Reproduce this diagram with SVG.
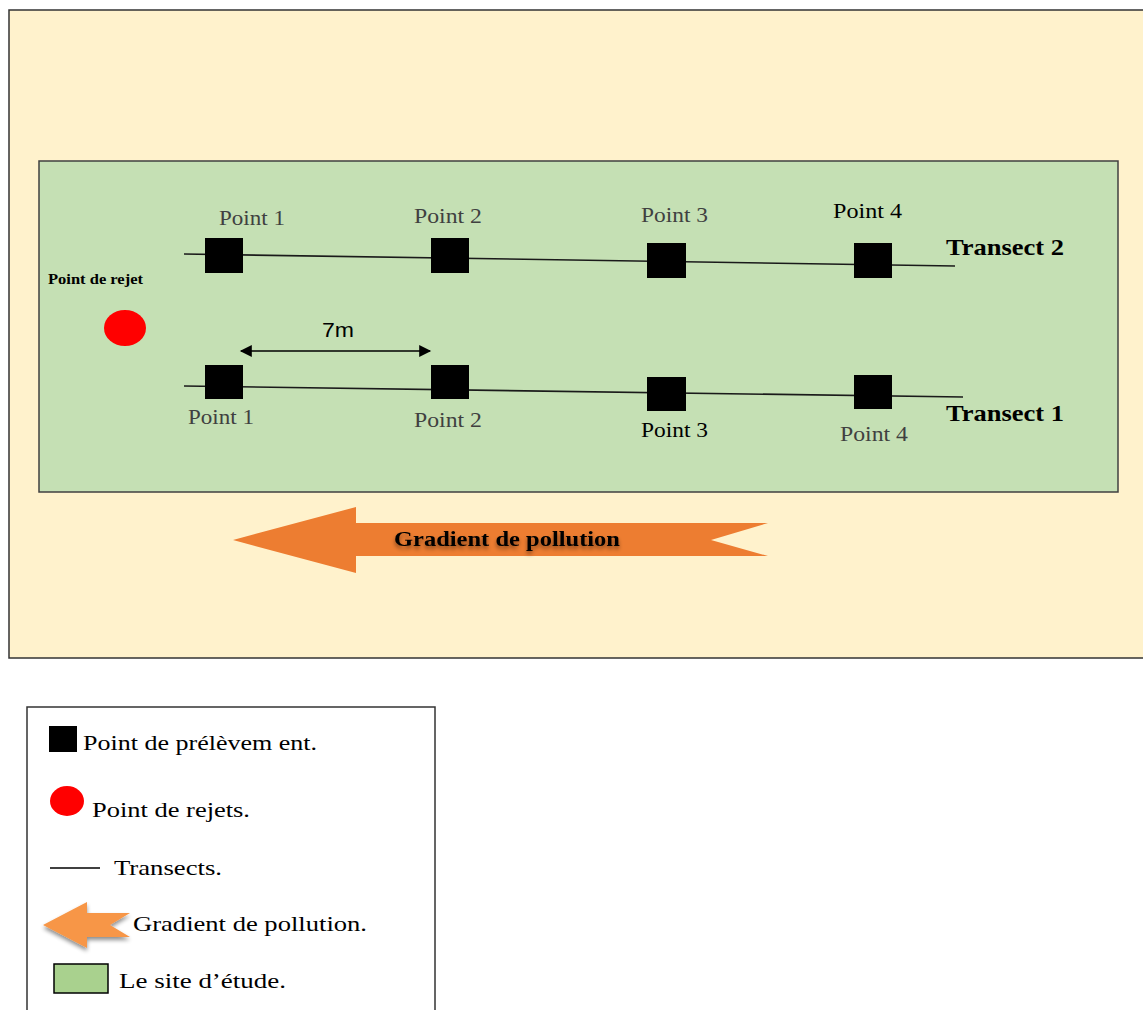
<svg xmlns="http://www.w3.org/2000/svg" width="1143" height="1010" viewBox="0 0 1143 1010">
<style>
.lbl{font-family:"Liberation Serif",serif;font-size:21px;fill:#404040}
.lblk{font-family:"Liberation Serif",serif;font-size:21px;fill:#000}
.tr{font-family:"Liberation Serif",serif;font-size:23px;font-weight:bold;fill:#000}
.leg{font-family:"Liberation Serif",serif;font-size:22px;fill:#000}
.sq{fill:#000}
.tl{stroke:#1a1a1a;stroke-width:1.6;fill:none}
</style>
<defs>
<marker id="ah" viewBox="0 0 10 10" refX="9" refY="5" markerWidth="14" markerHeight="12" markerUnits="userSpaceOnUse" orient="auto-start-reverse">
<path d="M0,0 L10,5 L0,10 z" fill="#000"/>
</marker>
<filter id="sh" x="-20%" y="-50%" width="140%" height="200%">
<feGaussianBlur in="SourceAlpha" stdDeviation="2"/>
<feOffset dx="0" dy="3" result="b"/>
<feComponentTransfer><feFuncA type="linear" slope="0.45"/></feComponentTransfer>
<feMerge><feMergeNode/><feMergeNode in="SourceGraphic"/></feMerge>
</filter>
</defs>
<rect id="background" x="0" y="0" width="1143" height="1010" fill="#fff"/>
<g id="outer-area"><rect x="9" y="10" width="1142" height="648" fill="#fff2cc" stroke="#333" stroke-width="1.5"/></g>
<g id="study-site"><rect x="39" y="161" width="1079" height="331" fill="#c5e0b4" stroke="#404040" stroke-width="1.5"/></g>
<g id="connectors">
<path class="tl" d="M184,254 L955,266"/>
<path class="tl" d="M184,386 L963,397"/>
<line x1="241" y1="351" x2="430" y2="351" stroke="#000" stroke-width="1.5" marker-start="url(#ah)" marker-end="url(#ah)"/>
</g>
<g id="rejet">
<ellipse cx="125" cy="328" rx="21" ry="18" fill="#ff0000"/>
<text x="48" y="284" font-family="Liberation Serif,serif" font-size="14" font-weight="bold" textLength="95" lengthAdjust="spacingAndGlyphs">Point de rejet</text>
</g>
<g id="t2-p1"><rect class="sq" x="205" y="238" width="38" height="35"/><text class="lbl" x="219" y="225" textLength="66" lengthAdjust="spacingAndGlyphs">Point 1</text></g>
<g id="t2-p2"><rect class="sq" x="431" y="238" width="38" height="35"/><text class="lbl" x="414" y="223" textLength="68" lengthAdjust="spacingAndGlyphs">Point 2</text></g>
<g id="t2-p3"><rect class="sq" x="647" y="243" width="39" height="35"/><text class="lbl" x="641" y="222" textLength="67" lengthAdjust="spacingAndGlyphs">Point 3</text></g>
<g id="t2-p4"><rect class="sq" x="854" y="243" width="38" height="35"/><text class="lblk" x="833" y="218" textLength="69" lengthAdjust="spacingAndGlyphs">Point 4</text></g>
<g id="t1-p1"><rect class="sq" x="205" y="365" width="38" height="34"/><text class="lbl" x="188" y="424" textLength="66" lengthAdjust="spacingAndGlyphs">Point 1</text></g>
<g id="t1-p2"><rect class="sq" x="431" y="365" width="38" height="34"/><text class="lbl" x="414" y="427" textLength="68" lengthAdjust="spacingAndGlyphs">Point 2</text></g>
<g id="t1-p3"><rect class="sq" x="647" y="377" width="39" height="34"/><text class="lblk" x="641" y="437" textLength="67" lengthAdjust="spacingAndGlyphs">Point 3</text></g>
<g id="t1-p4"><rect class="sq" x="854" y="375" width="38" height="34"/><text class="lbl" x="840" y="441" textLength="68" lengthAdjust="spacingAndGlyphs">Point 4</text></g>
<g id="transect-labels">
<text class="tr" x="946" y="255" textLength="118" lengthAdjust="spacingAndGlyphs">Transect 2</text>
<text class="tr" x="946" y="421" textLength="118" lengthAdjust="spacingAndGlyphs">Transect 1</text>
</g>
<g id="distance"><text x="322" y="337" font-family="Liberation Sans,sans-serif" font-size="20" fill="#000" textLength="32" lengthAdjust="spacingAndGlyphs">7m</text></g>
<g id="gradient-arrow">
<path d="M233,540 L356,507 L356,523 L768,523 L711,540 L768,556 L356,556 L356,573 Z" fill="#ed7d31"/>
<text x="394" y="546" font-family="Liberation Serif,serif" font-size="22" font-weight="bold" fill="#000" filter="url(#sh)" textLength="226" lengthAdjust="spacingAndGlyphs">Gradient de pollution</text>
</g>
<g id="legend">
<rect x="27" y="707" width="408" height="320" fill="#fff" stroke="#333" stroke-width="1.5"/>
<rect x="49" y="726" width="28" height="26" fill="#000"/>
<text class="leg" x="83" y="750" textLength="234" lengthAdjust="spacingAndGlyphs">Point de prélèvem ent.</text>
<ellipse cx="67" cy="801" rx="17" ry="15" fill="#ff0000"/>
<text class="leg" x="92" y="817" textLength="158" lengthAdjust="spacingAndGlyphs">Point de rejets.</text>
<line x1="50" y1="868" x2="100" y2="868" stroke="#000" stroke-width="1.5"/>
<text class="leg" x="114" y="875" textLength="108" lengthAdjust="spacingAndGlyphs">Transects.</text>
<path d="M43,925 L87,902 L87,913 L130,913 L110,925 L130,937 L87,937 L87,948 Z" fill="#f79646" filter="url(#sh)"/>
<text class="leg" x="133" y="931" textLength="234" lengthAdjust="spacingAndGlyphs">Gradient de pollution.</text>
<rect x="54" y="964" width="54" height="29" fill="#a9d18e" stroke="#000" stroke-width="1.5"/>
<text class="leg" x="119" y="988" textLength="167" lengthAdjust="spacingAndGlyphs">Le site d’étude.</text>
</g>
</svg>
